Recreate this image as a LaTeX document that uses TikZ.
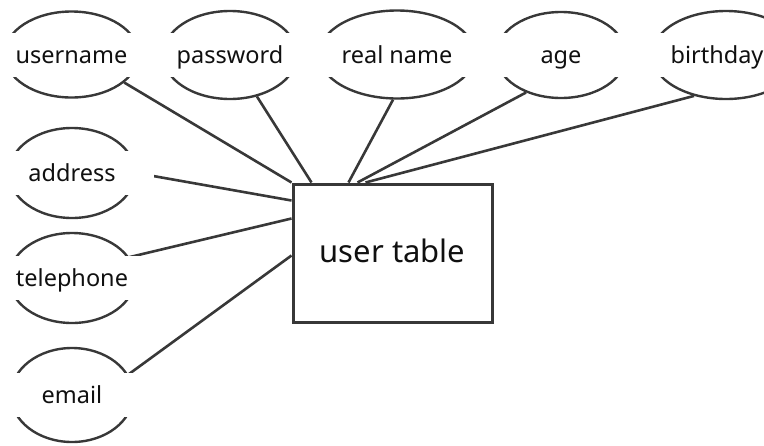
\documentclass[tikz,border=0pt]{standalone}
\usepackage{fontspec}
\setmainfont{Noto Sans}
\usetikzlibrary{shapes.geometric,calc}
\definecolor{ln}{HTML}{383838}
\definecolor{tx}{HTML}{101010}
\begin{document}
\begin{tikzpicture}[x=1pt,y=-1pt,
  attr/.style={ellipse,draw=ln,line width=2.4pt,inner sep=0pt},
  band/.style={fill=white,text=tx,inner sep=0pt,minimum width=164pt,minimum height=44pt,
    text height=17pt,text depth=0pt,font=\fontsize{23.5}{28}\selectfont},
  conn/.style={draw=ln,line width=2.6pt},
  tbl/.style={draw=ln,line width=3pt,fill=white,text=tx,minimum width=199pt,minimum height=138pt,
    inner sep=0pt,text height=18pt,text depth=0pt,font=\fontsize{31}{36}\selectfont}]
\useasboundingbox (0,0) rectangle (764,445);
\clip (0,0) rectangle (764,445);
% attribute ellipses
\node[attr,minimum width=134pt,minimum height=86pt] (u)  at (71.5,54.5) {};
\node[attr,minimum width=134pt,minimum height=88pt] (p)  at (230,55) {};
\node[attr,minimum width=156pt,minimum height=88pt] (rn) at (397,54.5) {};
\node[attr,minimum width=130pt,minimum height=86pt] (ag) at (561,55) {};
\node[attr,minimum width=148pt,minimum height=88pt] (bd) at (726,55) {};
\node[attr,minimum width=126pt,minimum height=90pt] (ad) at (72,173) {};
\node[attr,minimum width=126pt,minimum height=90pt] (tp) at (72,278) {};
\node[attr,minimum width=122pt,minimum height=94pt] (em) at (72,395) {};
% entity
\node[tbl] (R) at (392.5,253) {user table};
% connectors
\draw[conn] (u.-28) -- (R.north west);
\draw[conn] (p.-57) -- ($(R.north west)+(20,0)$);
\draw[conn] (rn.-95) -- ($(R.north west)+(57,0)$);
\draw[conn] (ag.-133) -- ($(R.north west)+(66,0)$);
\draw[conn] (bd.-128) -- ($(R.north west)+(74,0)$);
\draw[conn] (ad.east) -- ($(R.north west)+(0,18)$);
\draw[conn] (tp.20) -- ($(R.north west)+(0,36)$);
\draw[conn] (em.20) -- ($(R.north west)+(0,73)$);
% labels
\node[band] (ut)  at (u)  {username};
\node[band] (pt)  at (p)  {password};
\node[band,minimum width=180pt] (rnt) at (rn) {real name};
\node[band] (agt) at (ag) {age};
\node[band] (bdt) at (717,55) {birthday};
\node[band] (adt) at (ad) {address};
\node[band] (tpt) at (tp) {telephone};
\node[band] (emt) at (em) {email};
\end{tikzpicture}
\end{document}
